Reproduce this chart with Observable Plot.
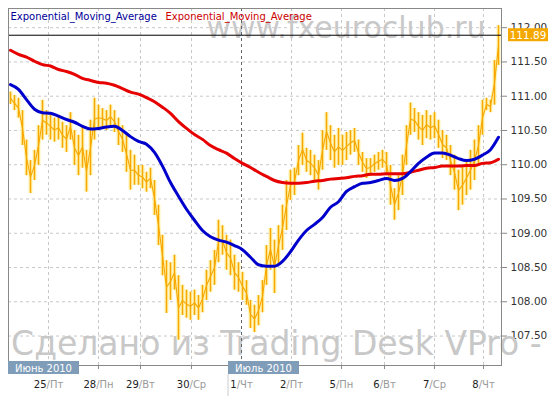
<!DOCTYPE html>
<html><head><meta charset="utf-8">
<script src="https://cdn.jsdelivr.net/npm/d3@7"></script>
<script src="https://cdn.jsdelivr.net/npm/@observablehq/plot@0.6"></script>
<style>body{margin:0;background:#fff;} #chart svg{display:block;}</style>
</head><body><div id="chart"></div>
<script>
// ---- data ----
const barHi = [111.06,111.01,110.97,110.79,110.36,110.06,110.21,110.57,110.94,110.79,
110.76,110.68,110.72,110.62,110.57,110.76,110.50,110.43,110.57,110.21,
110.65,110.97,110.87,110.82,110.79,110.87,110.79,110.68,110.57,110.43,
110.21,110.14,109.99,109.99,109.89,109.95,109.77,109.41,108.97,108.60,
108.57,108.68,108.38,108.24,108.17,108.14,108.17,108.09,108.24,108.46,
108.60,108.75,109.19,109.11,108.97,108.90,108.68,108.57,108.43,108.31,
108.02,107.95,108.09,108.31,108.82,109.07,108.90,109.11,109.41,109.77,
109.92,109.95,110.28,110.46,110.24,110.21,110.14,110.06,110.50,110.76,
110.57,110.43,110.53,110.43,110.47,110.50,110.53,110.36,110.18,110.09,
110.09,110.14,110.18,110.21,110.18,109.99,109.65,109.84,110.14,110.57,
110.90,110.82,110.76,110.72,110.79,110.72,110.76,110.65,110.50,110.43,
110.28,110.14,109.92,109.99,110.06,110.21,110.36,110.57,110.94,110.97,
110.94,111.52,112.03];
const barLo = [110.88,110.79,110.68,110.28,109.84,109.58,109.77,109.99,110.36,110.43,
110.36,110.33,110.36,110.24,110.18,110.36,109.99,109.84,109.95,109.60,
109.84,110.36,110.50,110.53,110.50,110.53,110.47,110.28,110.18,109.89,
109.63,109.70,109.70,109.65,109.60,109.65,109.26,108.82,108.38,107.83,
108.02,108.17,107.44,107.80,107.76,107.73,107.80,107.73,107.84,108.02,
108.14,108.24,108.57,108.68,108.46,108.38,108.17,108.14,108.02,107.95,
107.61,107.55,107.65,107.84,108.24,108.46,108.12,108.53,108.75,109.04,
109.48,109.55,109.84,109.99,109.89,109.84,109.77,109.63,109.92,110.21,
110.06,109.95,109.99,109.99,110.06,110.14,110.18,109.99,109.89,109.80,
109.83,109.89,109.92,109.95,109.84,109.41,109.19,109.33,109.55,109.99,
110.43,110.47,110.36,110.28,110.38,110.36,110.38,110.24,110.09,110.06,
109.84,109.63,109.33,109.41,109.55,109.63,109.77,109.99,110.43,110.79,
110.76,110.87,111.45];
const emaBlue = [111.17,111.10,110.95,110.81,110.76,110.75,110.71,110.66,110.62,110.56,
110.52,110.53,110.55,110.56,110.50,110.41,110.34,110.30,110.18,109.98,
109.74,109.54,109.35,109.19,109.04,108.95,108.90,108.87,108.82,108.76,
108.65,108.54,108.52,108.52,108.59,108.73,108.90,109.04,109.13,109.23,
109.38,109.46,109.61,109.68,109.73,109.74,109.77,109.80,109.77,109.80,
109.90,110.02,110.11,110.17,110.17,110.14,110.09,110.06,110.08,110.14,
110.22,110.40];
const emaRed = [111.67,111.61,111.57,111.51,111.46,111.44,111.39,111.36,111.32,111.26,
111.23,111.20,111.19,111.16,111.11,111.06,111.03,110.98,110.92,110.84,
110.75,110.63,110.53,110.44,110.37,110.28,110.22,110.17,110.09,110.02,
109.96,109.89,109.83,109.77,109.74,109.73,109.73,109.74,109.76,109.77,
109.79,109.80,109.81,109.83,109.84,109.86,109.86,109.87,109.87,109.87,
109.89,109.92,109.95,109.96,109.98,109.98,109.98,109.99,109.99,110.02,
110.03,110.08];
const lastClose = 111.89;
const yTicks = [107.5,108,108.5,109,109.5,110,110.5,111,111.5,112];
const dayTicks = [9.5,22,32.5,45.25,57.75,70.25,82.75,93.5,106,118.25];
const dayNums = ["25","28","29","30","1","2","5","6","7","8"];
const dayNames = ["Пт","Пн","Вт","Ср","Чт","Пт","Пн","Вт","Ср","Чт"];
const monthBoundary = [57.75];
const monthLabels = ["Июнь 2010","Июль 2010"];
const monthStarts = [-0.5,54.5];
const legendLabels = ["Exponential_Moving_Average","Exponential_Moving_Average"];
const watermarkTop = "www.fxeuroclub.ru";
const watermarkBottom = "Сделано из Trading Desk VPro -";

// ---- build tables ----
const bars = barLo.map((lo, i) => ({i, lo, hi: barHi[i], mid: (lo + barHi[i]) / 2}));
const emaIdx = d3.range(0, barLo.length, 2);
const ema = emaIdx.map((i, k) => ({i, b: emaBlue[k], r: emaRed[k]}));
const labelMap = new Map(dayTicks.map((t, k) => [t, dayNums[k] + "/" + dayNames[k]]));
const minorDays = dayTicks.filter(t => !monthBoundary.includes(t));

const FONT = "DejaVu Sans";
const chart = Plot.plot({
  width: 555, height: 396,
  marginTop: 8, marginBottom: 31, marginLeft: 8, marginRight: 54,
  style: {fontFamily: FONT, fontSize: "10.5px", color: "#333", background: "white", overflow: "visible"},
  x: {domain: [-0.5, 122.75], ticks: dayTicks, tickFormat: d => labelMap.get(d), tickSize: 4, tickPadding: 11, label: null},
  y: {domain: [107.07, 112.28], axis: "right", ticks: yTicks, tickFormat: d => d.toFixed(2), tickSize: 5, tickPadding: 4, label: null},
  marks: [
    Plot.text([watermarkTop], {text: d => d, frameAnchor: "top-left", dx: 198, dy: 29, textAnchor: "start", lineAnchor: "bottom", fontSize: 30, fill: "#c8c8c8", fontFamily: FONT}),
    Plot.text([watermarkBottom], {text: d => d, frameAnchor: "bottom-left", dx: 2.6, dy: -11, textAnchor: "start", lineAnchor: "bottom", fontSize: 33, fill: "#c8c8c8", fontFamily: FONT}),
    Plot.ruleY(yTicks, {stroke: "#c8c8c8", strokeDasharray: "3,3"}),
    Plot.ruleX(minorDays, {stroke: "#c8c8c8", strokeDasharray: "3,3"}),
    Plot.ruleX(monthBoundary, {stroke: "#666", strokeDasharray: "3,3"}),
    Plot.ruleX(bars, {x: "i", y1: "lo", y2: "hi", stroke: "#fff3b0", strokeWidth: 4}),
    Plot.line(bars, {x: "i", y: "mid", stroke: "#fff3b0", strokeWidth: 3}),
    Plot.ruleX(bars, {x: "i", y1: "lo", y2: "hi", stroke: "#f7a800", strokeWidth: 1.5}),
    Plot.line(bars, {x: "i", y: "mid", stroke: "#f7a800", strokeWidth: 1.1}),
    Plot.line(ema, {x: "i", y: "r", stroke: "#e60000", strokeWidth: 3, curve: "monotone-x"}),
    Plot.line(ema, {x: "i", y: "b", stroke: "#0000cc", strokeWidth: 3, curve: "monotone-x"}),
    Plot.ruleY([lastClose], {stroke: "#000", strokeWidth: 1}),
    Plot.frame({stroke: "#888"}),
    Plot.text([legendLabels[0]], {text: d => d, frameAnchor: "top-left", dx: 2, dy: 11, textAnchor: "start", lineAnchor: "bottom", fontSize: 10, fill: "#000099", fontFamily: FONT}),
    Plot.text([legendLabels[1]], {text: d => d, frameAnchor: "top-left", dx: 157, dy: 11, textAnchor: "start", lineAnchor: "bottom", fontSize: 10, fill: "#cc0000", fontFamily: FONT})
  ]
});
document.getElementById("chart").append(chart);

// ---- decorations using the chart's own scales ----
const svg = d3.select(chart);
const xs = chart.scale("x"), ys = chart.scale("y");
const frameBottom = 396 - 31;

svg.selectAll("text").each(function () {
  const m = /^(\d+)(\/.+)$/.exec(this.textContent);
  if (m && this.children.length === 0) {
    this.textContent = "";
    d3.select(this).attr("font-size", 10);
    d3.select(this).append("tspan").attr("fill", "#222").text(m[1]);
    d3.select(this).append("tspan").attr("fill", "#999").text(m[2]);
  }
});
svg.selectAll('g[aria-label="x-axis tick"], g[aria-label="y-axis tick"]').attr("stroke", "#888");

monthLabels.forEach((lab, k) => {
  const x0 = xs.apply(monthStarts[k]);
  if (k > 0) svg.append("line").attr("x1", x0).attr("x2", x0).attr("y1", frameBottom + 9).attr("y2", 396).attr("stroke", "#ccc");
  svg.append("rect").attr("x", x0).attr("y", frameBottom - 4).attr("width", 71).attr("height", 13).attr("fill", "#7f9db9");
  svg.append("text").attr("x", x0 + 35.5).attr("y", frameBottom + 6.5).attr("text-anchor", "middle")
    .attr("fill", "#fff").attr("font-size", 10).attr("font-family", FONT).text(lab);
});

const yTag = ys.apply(lastClose);
svg.append("rect").attr("x", 508).attr("y", yTag - 6.5).attr("width", 40).attr("height", 13).attr("fill", "#f5a800");
svg.append("text").attr("x", 528).attr("y", yTag + 4).attr("text-anchor", "middle").attr("fill", "#fff")
  .attr("font-size", 10.5).attr("font-family", FONT).text(lastClose.toFixed(2));
</script>
</body></html>
